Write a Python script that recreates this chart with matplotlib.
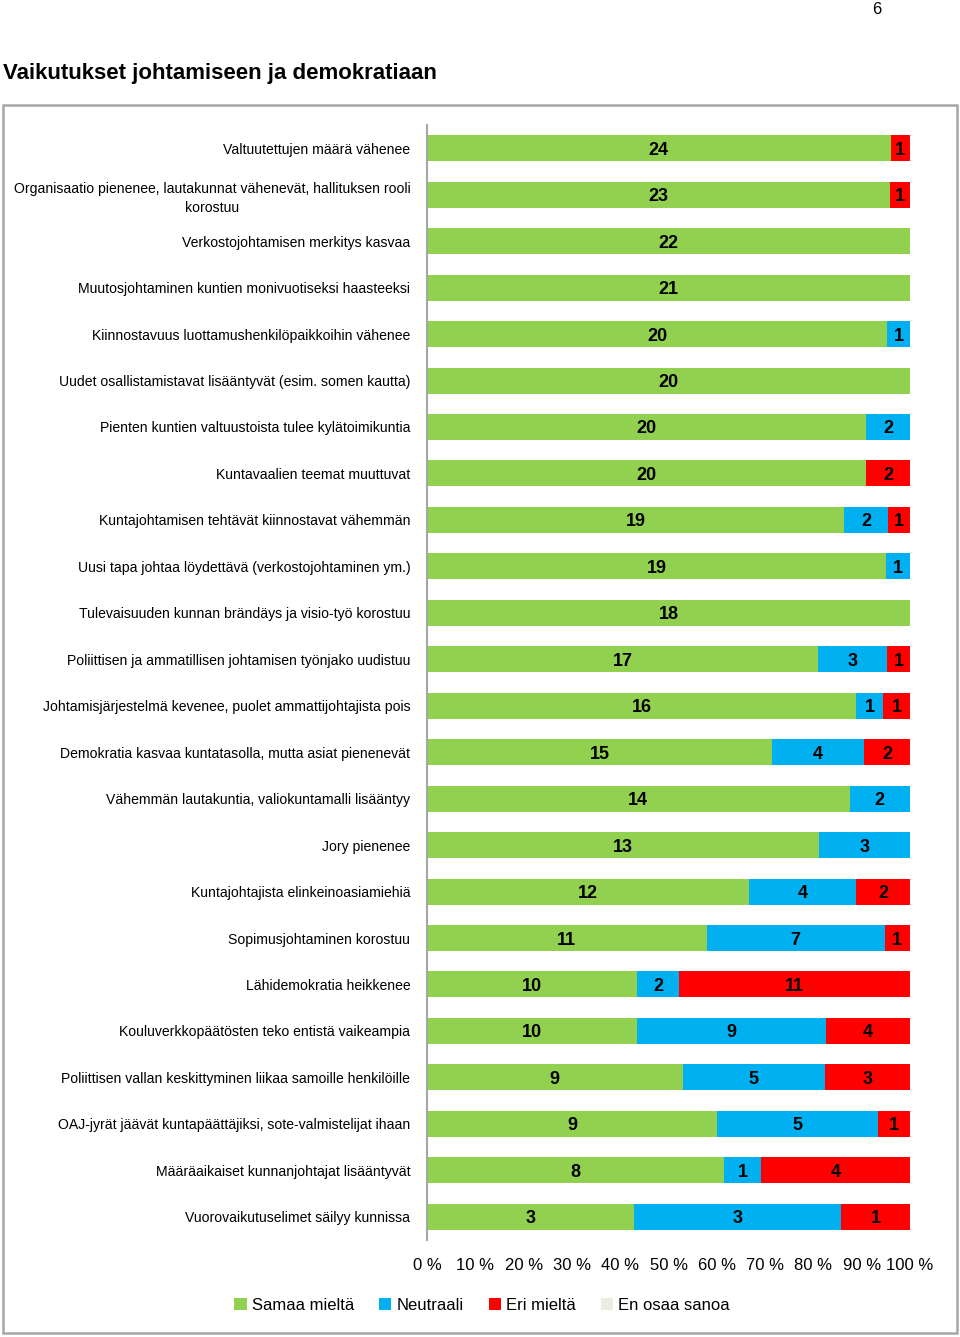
import numpy as np
import matplotlib.pyplot as plt
import matplotlib.patches as patches
from matplotlib.patches import Patch

plt.rcParams['font.family'] = ['Liberation Sans', 'DejaVu Sans']

categories = [
    'Valtuutettujen määrä vähenee',
    'Organisaatio pienenee, lautakunnat vähenevät, hallituksen rooli\nkorostuu',
    'Verkostojohtamisen merkitys kasvaa',
    'Muutosjohtaminen kuntien monivuotiseksi haasteeksi',
    'Kiinnostavuus luottamushenkilöpaikkoihin vähenee',
    'Uudet osallistamistavat lisääntyvät (esim. somen kautta)',
    'Pienten kuntien valtuustoista tulee kylätoimikuntia',
    'Kuntavaalien teemat muuttuvat',
    'Kuntajohtamisen tehtävät kiinnostavat vähemmän',
    'Uusi tapa johtaa löydettävä (verkostojohtaminen ym.)',
    'Tulevaisuuden kunnan brändäys ja visio-työ korostuu',
    'Poliittisen ja ammatillisen johtamisen työnjako uudistuu',
    'Johtamisjärjestelmä kevenee, puolet ammattijohtajista pois',
    'Demokratia kasvaa kuntatasolla, mutta asiat pienenevät',
    'Vähemmän lautakuntia, valiokuntamalli lisääntyy',
    'Jory pienenee',
    'Kuntajohtajista elinkeinoasiamiehiä',
    'Sopimusjohtaminen korostuu',
    'Lähidemokratia heikkenee',
    'Kouluverkkopäätösten teko entistä vaikeampia',
    'Poliittisen vallan keskittyminen liikaa samoille henkilöille',
    'OAJ-jyrät jäävät kuntapäättäjiksi, sote-valmistelijat ihaan',
    'Määräaikaiset kunnanjohtajat lisääntyvät',
    'Vuorovaikutuselimet säilyy kunnissa',
]
samaa = [24, 23, 22, 21, 20, 20, 20, 20, 19, 19, 18, 17, 16, 15, 14, 13, 12, 11, 10, 10, 9, 9, 8, 3]
neutraali = [0, 0, 0, 0, 1, 0, 2, 0, 2, 1, 0, 3, 1, 4, 2, 3, 4, 7, 2, 9, 5, 5, 1, 3]
eri = [1, 1, 0, 0, 0, 0, 0, 2, 1, 0, 0, 1, 1, 2, 0, 0, 2, 1, 11, 4, 3, 1, 4, 1]
eos = [0] * 24
series_names = ['Samaa mieltä', 'Neutraali', 'Eri mieltä', 'En osaa sanoa']
colors = ['#92D050', '#00B0F0', '#FF0000', '#EEECE1']
xticklabels = ['0 %', '10 %', '20 %', '30 %', '40 %', '50 %', '60 %', '70 %', '80 %', '90 %', '100 %']

data = np.array([samaa, neutraali, eri, eos], dtype=float)
total = data.sum(axis=0)
shares = data / total

fig = plt.figure(figsize=(9.6, 13.37), dpi=100)
ax = fig.add_axes([427/960, 1 - 1240/1337, 483/960, (1240-125)/1337])

y = np.arange(len(categories))
left = np.zeros(len(categories))
for i in range(4):
    bars = ax.barh(y, shares[i], left=left, height=0.56, color=colors[i], label=series_names[i])
    labels = [str(int(v)) if v > 0 else '' for v in data[i]]
    txts = ax.bar_label(bars, labels=labels, label_type='center', fontsize=13, fontweight='bold', color='black')
    for t in txts:
        t.set_va('center_baseline')
    left += shares[i]

ax.set_ylim(len(categories) - 0.5, -0.5)
ax.set_xlim(0, 1)
ax.set_yticks(y)
ax.set_yticklabels(categories, fontsize=10.1, multialignment='center', linespacing=1.45)
ax.set_xticks(np.linspace(0, 1, 11))
ax.set_xticklabels(xticklabels, fontsize=12)
ax.tick_params(axis='x', length=0, pad=13)
ax.tick_params(axis='y', length=0, pad=12)
for s in ['top', 'right', 'bottom']:
    ax.spines[s].set_visible(False)
ax.spines['left'].set_color('#a6a6a6')
ax.spines['left'].set_linewidth(1.5)

handles = [Patch(facecolor=c, edgecolor='none') for c in colors]
fig.legend(handles, series_names, loc='center', bbox_to_anchor=(482/960, 1 - 1305/1337), ncol=4,
           frameon=False, fontsize=12, handlelength=0.75, handleheight=0.75, handletextpad=0.3,
           columnspacing=1.5)

fig.patches.append(patches.Rectangle((3/960, 1 - 1333/1337), 954/960, 1228/1337, transform=fig.transFigure,
                                     fill=False, edgecolor='#a6a6a6', linewidth=1.8))
fig.text(3/960, 1 - 73/1337, 'Vaikutukset johtamiseen ja demokratiaan', fontsize=16, fontweight='bold',
         ha='left', va='center')
fig.text(877/960, 1 - 9/1337, '6', fontsize=12, ha='center', va='center')

fig.savefig('out.png', dpi=100)
